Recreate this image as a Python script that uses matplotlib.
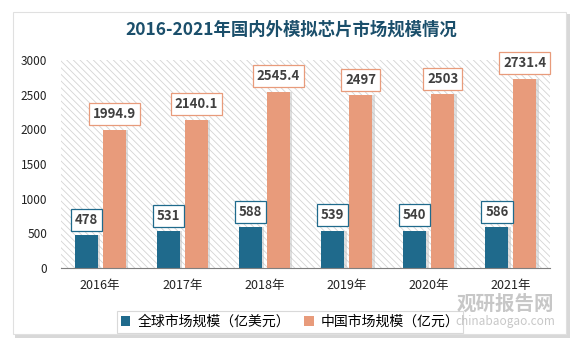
import numpy as np
import matplotlib
matplotlib.use('Agg')
import matplotlib.pyplot as plt
from matplotlib.patches import Rectangle

plt.rcParams['font.family'] = ['Noto Sans CJK SC', 'DejaVu Sans']
plt.rcParams['hatch.color'] = '#d4d4d4'
plt.rcParams['hatch.linewidth'] = 0.6

#-------------- DATA

years  = ['2016年', '2017年', '2018年', '2019年', '2020年', '2021年']
world  = [478, 531, 588, 539, 540, 586]
china  = [1994.9, 2140.1, 2545.4, 2497, 2503, 2731.4]
world_lbl = ['478', '531', '588', '539', '540', '586']
china_lbl = ['1994.9', '2140.1', '2545.4', '2497', '2503', '2731.4']
names  = ['全球市场规模（亿美元）', '中国市场规模（亿元）']

c_blue   = '#1f6a8c'
c_orange = '#e89b7b'

#-------------- FIGURE / CARD

fig = plt.figure(figsize=(5.82, 3.48), dpi=100)
fig.patch.set_facecolor('white')

# card shadow + card
fig.patches.append(Rectangle((15/582, 1-338/348), 555/582, 324/348, transform=fig.transFigure,
                             facecolor='#d8d8d8', edgecolor='none', zorder=0))
fig.patches.append(Rectangle((13/582, 1-334/348), 553/582, 322/348, transform=fig.transFigure,
                             facecolor='white', edgecolor='#e0e0e0', lw=0.8, zorder=1))

ax = fig.add_axes([61/582, 1-268/348, 489/582, 208/348])
ax.set_facecolor('none')
ax.set_zorder(2)

x = np.arange(len(years))
w = 0.28
off = 0.17

ax.set_xlim(-0.476, 5.476)
ax.set_ylim(0, 3000)

# hatched plot area
ax.add_patch(Rectangle((0, 0), 1, 1, transform=ax.transAxes, facecolor='white',
                       edgecolor='#d4d4d4', hatch='\\\\\\\\\\', lw=0, zorder=0))

# soft shadows
ax.bar(x - off + 0.03, world, w, color='#bfbfbf', alpha=0.5, zorder=1)
ax.bar(x + off + 0.03, china, w, color='#bfbfbf', alpha=0.5, zorder=1)
b1 = ax.bar(x - off, world, w, color=c_blue, label=names[0], zorder=2)
b2 = ax.bar(x + off, china, w, color=c_orange, label=names[1], zorder=2)

for xi, v, s in zip(x, world, world_lbl):
    ax.annotate(s, (xi - off, v), xytext=(0, 11), textcoords='offset points',
                ha='center', va='center', fontsize=9.5, fontweight='bold', color='#404040',
                bbox=dict(boxstyle='square,pad=0.3', fc='white', ec=c_blue, lw=0.9), zorder=5)
for xi, v, s in zip(x, china, china_lbl):
    ax.annotate(s, (xi + off, v), xytext=(0, 11), textcoords='offset points',
                ha='center', va='center', fontsize=9.5, fontweight='bold', color='#404040',
                bbox=dict(boxstyle='square,pad=0.3', fc='white', ec=c_orange, lw=0.9), zorder=5)

ax.set_xticks(x)
ax.set_xticklabels(years, fontsize=9, color='#222222')
ax.set_yticks(np.arange(0, 3001, 500))
ax.tick_params(axis='y', length=0, labelsize=8.5, labelcolor='#222222', pad=10)
ax.tick_params(axis='x', length=0, pad=8)
for s in ['top', 'right', 'left']:
    ax.spines[s].set_visible(False)
ax.spines['bottom'].set_color('#7f7f7f')
ax.spines['bottom'].set_linewidth(0.8)

fig.text(0.5, 1-30/348, '2016-2021年国内外模拟芯片市场规模情况', ha='center', va='center',
         fontsize=12.5, fontweight='bold', color='#1b4f6b')

leg = fig.legend(handles=[b1, b2], labels=names, loc='center', bbox_to_anchor=(290/582, 1-322/348),
                 ncol=2, fontsize=10, frameon=True, fancybox=False, handlelength=0.7,
                 handleheight=0.7, handletextpad=0.5, columnspacing=1.0, borderpad=0.3)
leg.get_frame().set_edgecolor('#d0d0d0')
leg.get_frame().set_linewidth(0.8)
leg.set_zorder(6)

# watermark
fig.text(505/582, 1-304/348, '观研报告网', ha='center', va='center', fontsize=14,
         fontweight='bold', color='#9a9a9a', alpha=0.55, zorder=7)
fig.text(505/582, 1-321/348, 'chinabaogao.com', ha='center', va='center', fontsize=8.5,
         color='#9a9a9a', alpha=0.55, zorder=7)

plt.savefig('out.png', dpi=100)
